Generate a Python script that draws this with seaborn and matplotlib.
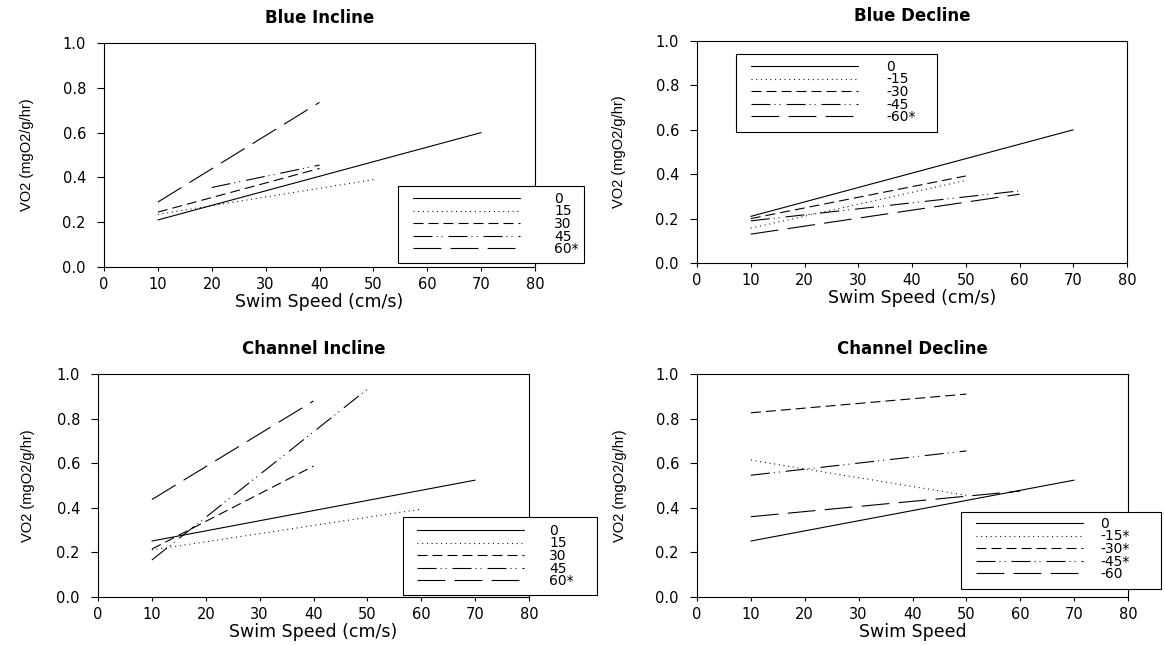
import pandas as pd
import matplotlib
matplotlib.use("Agg")
import matplotlib.pyplot as plt
from matplotlib.lines import Line2D
from matplotlib.patches import Rectangle
import seaborn as sns

# Blue Incline: regression lines, start / end speed and VO2
bi_labels = ["0", "15", "30", "45", "60*"]
bi_speed_lo = [10, 10, 10, 20, 10]
bi_speed_hi = [70, 50, 40, 40, 40]
bi_vo2_lo = [0.21, 0.235, 0.245, 0.355, 0.29]
bi_vo2_hi = [0.60, 0.39, 0.44, 0.455, 0.735]

# Blue Decline
bd_labels = ["0", "-15", "-30", "-45", "-60*"]
bd_speed_lo = [10, 10, 10, 10, 10]
bd_speed_hi = [70, 50, 50, 60, 60]
bd_vo2_lo = [0.21, 0.157, 0.20, 0.19, 0.13]
bd_vo2_hi = [0.60, 0.372, 0.392, 0.325, 0.31]

# Channel Incline
ci_labels = ["0", "15", "30", "45", "60*"]
ci_speed_lo = [10, 10, 10, 10, 10]
ci_speed_hi = [70, 60, 40, 50, 40]
ci_vo2_lo = [0.251, 0.211, 0.215, 0.166, 0.437]
ci_vo2_hi = [0.524, 0.394, 0.587, 0.932, 0.879]

# Channel Decline
cd_labels = ["0", "-15*", "-30*", "-45*", "-60"]
cd_speed_lo = [10, 10, 10, 10, 10]
cd_speed_hi = [70, 50, 50, 50, 60]
cd_vo2_lo = [0.251, 0.614, 0.826, 0.546, 0.36]
cd_vo2_hi = [0.524, 0.456, 0.91, 0.655, 0.475]

x_ticks = [0, 10, 20, 30, 40, 50, 60, 70, 80]
y_ticks = [0.0, 0.2, 0.4, 0.6, 0.8, 1.0]

# line patterns in points (solid, dotted, dashed, dash-dot-dot, long dash)
patterns = ["", (0.7, 2.7), (7.2, 3.6), (13.7, 2.9, 0.7, 2.9, 0.7, 4.3), (20, 6.7)]

W, H = 1165, 645

sns.set_style("ticks")
plt.rcParams["font.family"] = ["DejaVu Sans"]
plt.rcParams["lines.scale_dashes"] = False
plt.rcParams["text.color"] = "black"
plt.rcParams["axes.labelcolor"] = "black"
plt.rcParams["xtick.color"] = "black"
plt.rcParams["ytick.color"] = "black"


def fx(x):
    return x / W


def fy(y):
    return 1 - y / H


panels = [
    # title, xlabel, labels, lo, hi, vlo, vhi, axes box (l, t, r, b),
    # legend box (l, t, r, b), line start x, first row y, text gap px, ylabel x
    ("Blue Incline", "Swim Speed (cm/s)", bi_labels, bi_speed_lo, bi_speed_hi, bi_vo2_lo, bi_vo2_hi,
     (104, 43, 535, 267), (398, 186, 584, 263), 413, 199, 34, 27),
    ("Blue Decline", "Swim Speed (cm/s)", bd_labels, bd_speed_lo, bd_speed_hi, bd_vo2_lo, bd_vo2_hi,
     (697, 41, 1127, 263), (736, 54, 937, 132), 751, 67, 28, 619),
    ("Channel Incline", "Swim Speed (cm/s)", ci_labels, ci_speed_lo, ci_speed_hi, ci_vo2_lo, ci_vo2_hi,
     (98, 374, 529, 597), (403, 517, 597, 595), 417, 531, 25, 28),
    ("Channel Decline", "Swim Speed", cd_labels, cd_speed_lo, cd_speed_hi, cd_vo2_lo, cd_vo2_hi,
     (697, 374, 1128, 597), (961, 512, 1161, 589), 976, 524, 17, 620),
]

fig = plt.figure(figsize=(W / 100, H / 100), dpi=100)

for (title, xlab, labels, lo, hi, vlo, vhi, box, lbox, lx, ly, tgap, ylx) in panels:
    l, t, r, b = box
    ax = fig.add_axes([fx(l), fy(b), (r - l) / W, (b - t) / H])

    rows = []
    for i, lab in enumerate(labels):
        rows.append({"speed": lo[i], "vo2": vlo[i], "angle": lab})
        rows.append({"speed": hi[i], "vo2": vhi[i], "angle": lab})
    df = pd.DataFrame(rows)

    dash_map = {lab: patterns[i] for i, lab in enumerate(labels)}
    sns.lineplot(data=df, x="speed", y="vo2", style="angle", style_order=labels,
                 dashes=dash_map, color="black", lw=0.8, legend=False,
                 estimator=None, sort=False, ax=ax)

    ax.set_xlim(0, 80)
    ax.set_ylim(0, 1.0)
    ax.set_xticks(x_ticks)
    ax.set_yticks(y_ticks)
    ax.set_yticklabels([f"{v:.1f}" for v in y_ticks])
    ax.tick_params(axis="x", direction="out", length=3, width=0.8, pad=4.0,
                   labelsize=10.5)
    ax.tick_params(axis="y", direction="out", length=5, width=0.8, pad=8.0,
                   labelsize=10.5)
    for s in ax.spines.values():
        s.set_visible(True)
        s.set_color("black")
        s.set_linewidth(0.8)

    ax.set_title(title, fontsize=12, fontweight="bold", pad=14.5)
    ax.set_xlabel(xlab, fontsize=12.5)
    ax.xaxis.set_label_coords(0.5, -26 / (b - t))
    ax.set_ylabel("VO2 (mgO2/g/hr)", fontsize=10.5,
                  family=["Liberation Sans Narrow", "Liberation Sans", "DejaVu Sans"])
    ax.yaxis.set_label_coords((ylx - l) / (r - l), 0.5)
    ax.yaxis.label.set_verticalalignment("center")

    # legend frame
    bl, bt, br, bb = lbox
    frame = Rectangle((fx(bl), fy(bb)), (br - bl) / W, (bb - bt) / H,
                      transform=fig.transFigure, facecolor="white",
                      edgecolor="black", lw=0.8, clip_on=False, zorder=4)
    ax.add_patch(frame)

    handles = []
    for p in patterns:
        h = Line2D([], [], color="black", lw=0.8)
        if p:
            h.set_dashes(p)
        handles.append(h)
    fsz = 10
    fs_px = fsz * 100 / 72
    ax.legend(handles, labels, loc="upper left",
              bbox_to_anchor=(fx(lx), fy(ly - 7.2)), bbox_transform=fig.transFigure,
              frameon=False, borderpad=0, borderaxespad=0,
              handlelength=107 / fs_px, handletextpad=tgap / fs_px,
              labelspacing=-0.1, fontsize=fsz)

fig.savefig("out.png", dpi=100)
